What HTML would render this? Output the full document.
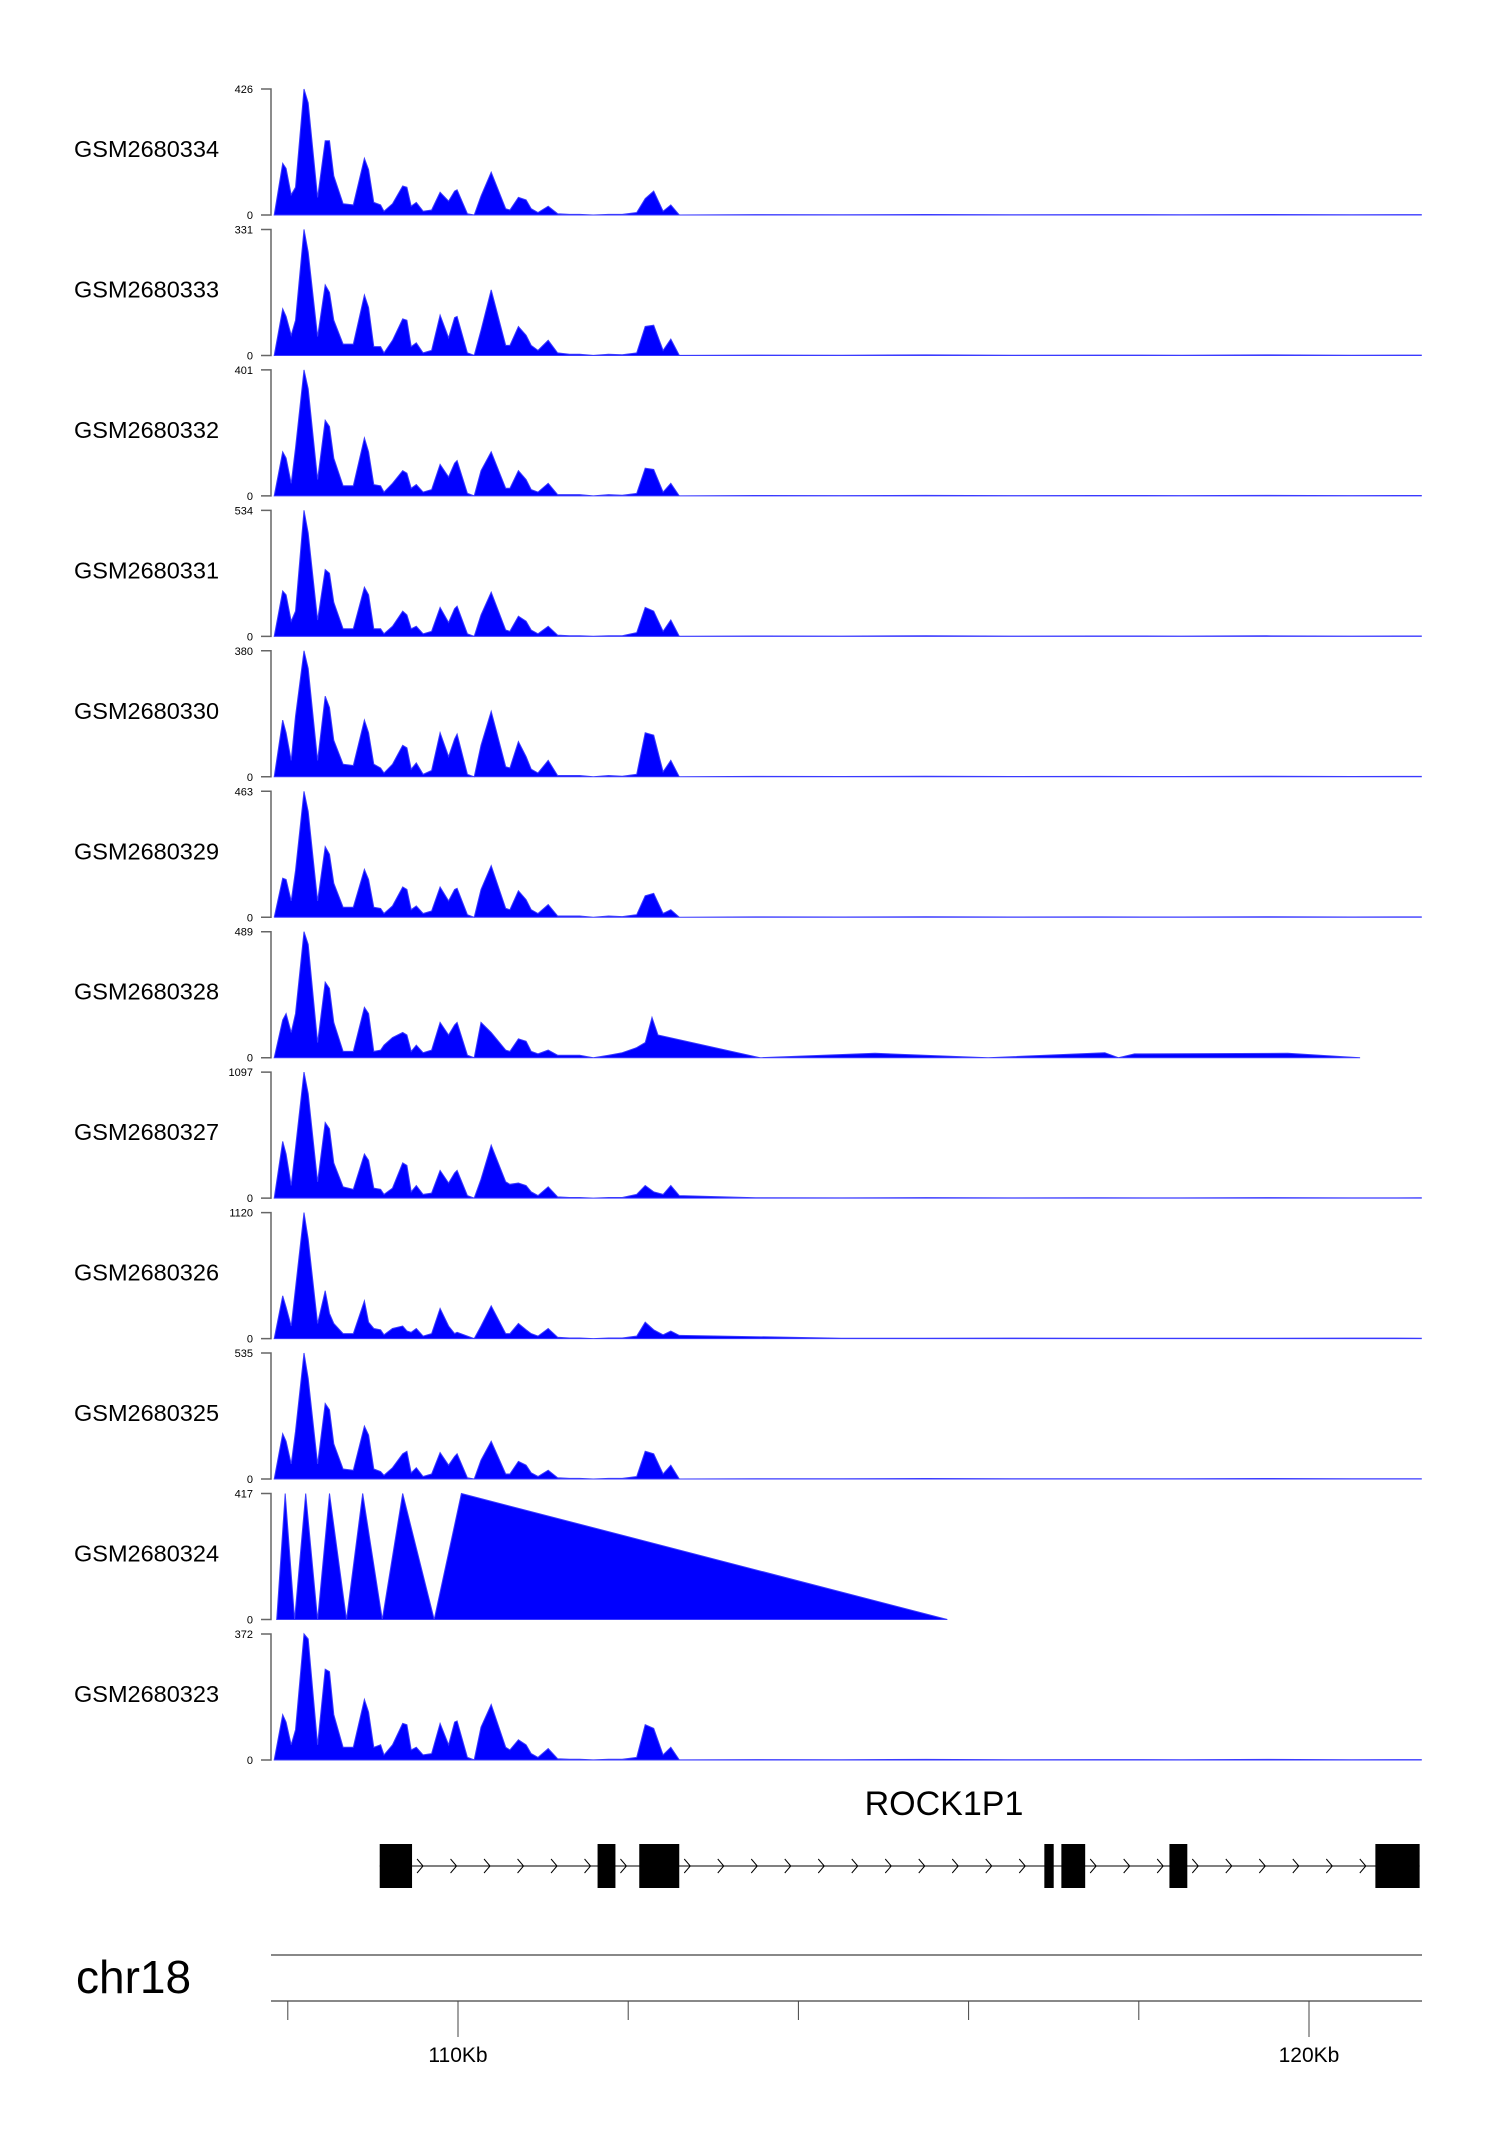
<!DOCTYPE html>
<html><head><meta charset="utf-8"><style>
html,body{margin:0;padding:0;background:#fff;}
svg{display:block;font-family:"Liberation Sans",sans-serif;}
</style></head><body>
<svg id="chart" width="1500" height="2140" viewBox="0 0 1500 2140" xmlns="http://www.w3.org/2000/svg">
<g id="tracks"></g>
<g id="gene"></g>
<g id="axis"></g>
</svg>
<script>
const sampleNames=["GSM2680334","GSM2680333","GSM2680332","GSM2680331","GSM2680330","GSM2680329","GSM2680328","GSM2680327","GSM2680326","GSM2680325","GSM2680324","GSM2680323"];
const yMaxLabels=[426,331,401,534,380,463,489,1097,1120,535,417,372];
const positionsKb=[107.84,107.94,107.98,108.04,108.09,108.19,108.24,108.35,108.44,108.49,108.54,108.65,108.77,108.90,108.95,109.01,109.09,109.13,109.23,109.35,109.40,109.45,109.51,109.59,109.69,109.79,109.89,109.96,109.99,110.11,110.19,110.27,110.39,110.56,110.61,110.71,110.80,110.86,110.94,111.06,111.17,111.31,111.43,111.59,111.77,111.93,112.10,112.20,112.30,112.41,112.50,112.60,113.5,114.5,115.5,116.5,117.5,118.5,119.5,120.5,121.32];
const tail=[0.003,0.002,0.004,0.002,0.003,0.002,0.004,0.002,0.003];
const v334=[0,0.41,0.37,0.16,0.22,1.0,0.89,0.14,0.59,0.59,0.31,0.09,0.08,0.45,0.36,0.1,0.08,0.03,0.09,0.23,0.22,0.07,0.1,0.03,0.04,0.18,0.11,0.19,0.2,0.01,0,0.15,0.34,0.05,0.04,0.14,0.12,0.05,0.02,0.07,0.01,0.005,0.005,0,0.005,0.005,0.02,0.13,0.19,0.03,0.08,0].concat(tail);
const v333=[0,0.37,0.31,0.16,0.28,1.0,0.82,0.15,0.56,0.5,0.28,0.09,0.09,0.48,0.38,0.07,0.07,0.02,0.12,0.29,0.28,0.07,0.1,0.02,0.04,0.32,0.14,0.3,0.31,0.02,0,0.2,0.52,0.08,0.08,0.23,0.16,0.08,0.04,0.12,0.02,0.01,0.01,0,0.01,0.005,0.02,0.23,0.24,0.04,0.13,0].concat(tail);
const v332=[0,0.35,0.3,0.1,0.38,1.0,0.85,0.13,0.6,0.55,0.3,0.08,0.08,0.46,0.35,0.09,0.08,0.03,0.1,0.2,0.18,0.06,0.09,0.03,0.05,0.25,0.15,0.26,0.28,0.02,0,0.2,0.35,0.06,0.06,0.2,0.13,0.05,0.03,0.1,0.01,0.01,0.01,0,0.01,0.005,0.02,0.22,0.21,0.03,0.1,0].concat(tail);
const v331=[0,0.36,0.33,0.12,0.2,1.0,0.82,0.13,0.53,0.5,0.27,0.06,0.06,0.39,0.33,0.06,0.06,0.02,0.08,0.2,0.17,0.06,0.08,0.02,0.04,0.23,0.11,0.22,0.24,0.02,0,0.17,0.35,0.05,0.04,0.16,0.12,0.05,0.02,0.08,0.01,0.005,0.005,0,0.005,0.005,0.03,0.23,0.2,0.04,0.13,0].concat(tail);
const v330=[0,0.45,0.35,0.13,0.48,1.0,0.86,0.13,0.64,0.55,0.29,0.1,0.09,0.45,0.35,0.1,0.07,0.03,0.1,0.25,0.23,0.06,0.11,0.02,0.05,0.35,0.16,0.3,0.34,0.02,0,0.25,0.52,0.08,0.07,0.28,0.16,0.06,0.03,0.13,0.01,0.01,0.01,0,0.01,0.005,0.02,0.35,0.33,0.04,0.13,0].concat(tail);
const v329=[0,0.31,0.3,0.13,0.37,1.0,0.84,0.13,0.56,0.5,0.27,0.08,0.08,0.38,0.3,0.08,0.07,0.03,0.09,0.24,0.22,0.06,0.09,0.03,0.05,0.24,0.13,0.22,0.23,0.02,0,0.22,0.41,0.07,0.06,0.21,0.14,0.06,0.03,0.1,0.01,0.01,0.01,0,0.01,0.005,0.02,0.17,0.19,0.03,0.06,0].concat(tail);
const v327=[0,0.45,0.35,0.1,0.4,1.0,0.83,0.13,0.6,0.55,0.28,0.09,0.07,0.35,0.3,0.08,0.07,0.03,0.08,0.28,0.26,0.05,0.1,0.03,0.04,0.22,0.12,0.2,0.22,0.02,0,0.15,0.42,0.13,0.11,0.12,0.1,0.05,0.02,0.09,0.01,0.005,0.005,0,0.005,0.005,0.03,0.1,0.05,0.03,0.1,0.02].concat(tail);
const v326=[0,0.34,0.25,0.1,0.4,1.0,0.79,0.12,0.38,0.2,0.12,0.04,0.04,0.3,0.13,0.08,0.07,0.03,0.08,0.1,0.06,0.05,0.08,0.02,0.04,0.24,0.1,0.04,0.05,0.02,0,0.1,0.26,0.04,0.04,0.12,0.07,0.04,0.02,0.08,0.01,0.005,0.005,0,0.005,0.005,0.02,0.13,0.07,0.03,0.06,0.025,0.015,0.003,0.002,0.004,0.002,0.003,0.002,0.004,0.003];
const v325=[0,0.36,0.3,0.12,0.38,1.0,0.8,0.12,0.6,0.55,0.28,0.08,0.07,0.42,0.35,0.08,0.06,0.03,0.09,0.2,0.22,0.05,0.09,0.02,0.04,0.21,0.11,0.18,0.2,0.01,0,0.15,0.3,0.04,0.04,0.14,0.11,0.05,0.02,0.07,0.01,0.005,0.005,0,0.005,0.005,0.02,0.22,0.2,0.04,0.11,0].concat(tail);
const v323=[0,0.36,0.3,0.12,0.24,1.0,0.96,0.12,0.72,0.7,0.36,0.1,0.1,0.48,0.38,0.1,0.12,0.04,0.12,0.29,0.28,0.08,0.1,0.04,0.05,0.29,0.12,0.3,0.31,0.02,0,0.26,0.44,0.1,0.08,0.16,0.12,0.05,0.02,0.09,0.01,0.005,0.005,0,0.005,0.005,0.02,0.28,0.25,0.04,0.1,0].concat(tail);
const pos328=[107.84,107.94,107.98,108.04,108.09,108.19,108.24,108.35,108.44,108.49,108.54,108.65,108.77,108.90,108.95,109.01,109.09,109.13,109.23,109.35,109.40,109.45,109.51,109.59,109.69,109.79,109.89,109.96,109.99,110.11,110.19,110.27,110.39,110.56,110.61,110.71,110.80,110.86,110.94,111.06,111.17,111.31,111.43,111.59,111.77,111.93,112.10,112.20,112.28,112.35,113.55,114.9,116.23,117.6,117.76,117.95,119.75,120.6];
const v328=[0,0.3,0.35,0.2,0.35,1.0,0.9,0.12,0.6,0.55,0.28,0.05,0.05,0.4,0.35,0.05,0.06,0.1,0.16,0.2,0.18,0.05,0.1,0.04,0.06,0.28,0.18,0.26,0.28,0.02,0,0.28,0.2,0.06,0.05,0.15,0.13,0.05,0.03,0.06,0.02,0.02,0.02,0,0.02,0.04,0.08,0.12,0.32,0.18,0,0.035,0,0.04,0,0.03,0.035,0];
const pos324=[107.87,107.97,108.08,108.21,108.35,108.49,108.69,108.88,109.11,109.35,109.72,110.04,115.75];
const v324=[0,1,0,1,0,1,0,1,0,1,0,1,0];
const seriesPositions=[positionsKb,positionsKb,positionsKb,positionsKb,positionsKb,positionsKb,pos328,positionsKb,positionsKb,positionsKb,pos324,positionsKb];
const seriesValues=[v334,v333,v332,v331,v330,v329,v328,v327,v326,v325,v324,v323];
const exonStartsKb=[109.08,111.64,112.13,116.89,117.09,118.36,120.78];
const exonEndsKb=[109.46,111.85,112.60,117.00,117.37,118.57,121.30];
const axisTicksKb=[108,110,112,114,116,118,120];
const axisLabelKb=[110,120];

const NS="http://www.w3.org/2000/svg";
const xKb=kb=>458+(kb-110)*85.1;
const TOP0=89,PITCH=140.45,H=126;
function mk(tag,attrs,parent){const e=document.createElementNS(NS,tag);for(const k in attrs)e.setAttribute(k,attrs[k]);parent.appendChild(e);return e;}
const tracks=document.getElementById('tracks');
sampleNames.forEach((name,i)=>{
  const top=TOP0+i*PITCH,bot=top+H;
  const yS=v=>bot-v*H;
  const g=mk('g',{},tracks);
  
  
  const lab=mk('text',{x:74,y:(top+bot)/2+5,'font-size':23.5,fill:'#000'},g);
  lab.textContent=name;
  
  
  const ax=mk('path',{d:`M261 ${top}H271V${bot}H261`,stroke:'#666','stroke-width':1.5,fill:'none'},g);
  
  
  const t1=mk('text',{x:253,y:top+4,'font-size':11,'text-anchor':'end',fill:'#000'},g);
  t1.textContent=yMaxLabels[i];
  
  
  const t0=mk('text',{x:253,y:bot+4,'font-size':11,'text-anchor':'end',fill:'#000'},g);
  t0.textContent='0';
  
  
  const P=seriesPositions[i],V=seriesValues[i];
  let d=`M${xKb(P[0]).toFixed(1)} ${bot}`;
  P.forEach((p,j)=>{d+=` L${xKb(p).toFixed(1)} ${yS(V[j]).toFixed(1)}`;});
  d+=` L${xKb(P[P.length-1]).toFixed(1)} ${bot}Z`;
  const area=mk('path',{d:d,fill:'#0000ff',stroke:'#3a3aff','stroke-width':1},g);
  
  
});
// gene
const gene=document.getElementById('gene');
const gl=mk('text',{x:944,y:1815,'font-size':34,'text-anchor':'middle',fill:'#000'},gene);
gl.textContent='ROCK1P1';


const gy=1866;
const line=mk('line',{x1:xKb(exonStartsKb[0]),x2:xKb(exonEndsKb[exonEndsKb.length-1]),y1:gy,y2:gy,stroke:'#000','stroke-width':1},gene);


for(let k=0;k<exonStartsKb.length-1;k++){
  const a=xKb(exonEndsKb[k]),b=xKb(exonStartsKb[k+1]);
  for(let x=a+5;x<b-3;x+=33.5){
    const c=mk('path',{d:`M${x} ${gy-7}L${x+6} ${gy}L${x} ${gy+7}`,stroke:'#000','stroke-width':1,fill:'none'},gene);
    
    
  }
}
exonStartsKb.forEach((s,k)=>{
  const r=mk('rect',{x:xKb(s),y:gy-22,width:xKb(exonEndsKb[k])-xKb(s),height:44,fill:'#000'},gene);
  
  
});
// axis
const axis=document.getElementById('axis');
const chr=mk('text',{x:76,y:1993,'font-size':46,fill:'#000'},axis);
chr.textContent='chr18';


[1955,2001].forEach(y=>{
  const l=mk('line',{x1:271,x2:1422,y1:y,y2:y,stroke:'#888','stroke-width':2},axis);
  
  
});
axisTicksKb.forEach(kb=>{
  const t=mk('line',{x1:xKb(kb),x2:xKb(kb),y1:2001,y2:(axisLabelKb.includes(kb)?2037:2020),stroke:'#444','stroke-width':1},axis);
  
  
});
axisLabelKb.forEach(kb=>{
  const t=mk('text',{x:xKb(kb),y:2062,'font-size':21,'text-anchor':'middle',fill:'#000'},axis);
  t.textContent=kb+'Kb';
  
  
});
</script>
</body></html>
